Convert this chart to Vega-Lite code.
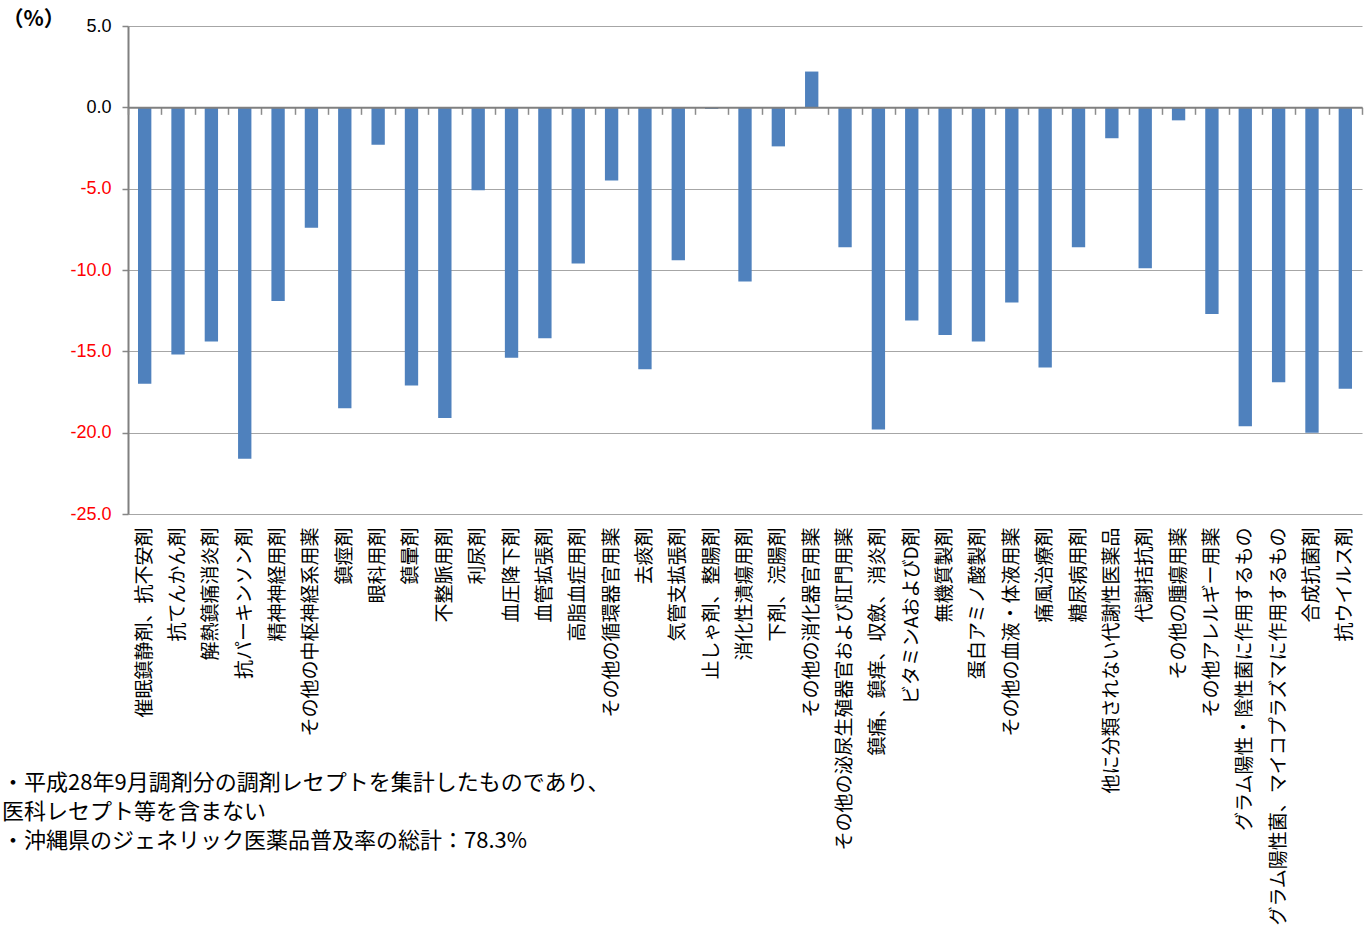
{
  "$schema": "https://vega.github.io/schema/vega-lite/v6.json",
  "width": 1234,
  "height": 488,
  "autosize": {"type": "none"},
  "padding": {"left": 128, "top": 26, "right": 7, "bottom": 435},
  "background": "white",
  "config": {"view": {"stroke": null}, "font": "Noto Sans CJK JP"},
  "title": {
    "text": [
      "・平成28年9月調剤分の調剤レセプトを集計したものであり、",
      "医科レセプト等を含まない",
      "・沖縄県のジェネリック医薬品普及率の総計：78.3%"
    ],
    "orient": "bottom",
    "anchor": "start",
    "frame": "bounds",
    "font": "Noto Sans CJK JP",
    "fontSize": 22,
    "fontWeight": "normal",
    "color": "black",
    "lineHeight": 29,
    "dy": -157
  },
  "data": {
    "values": [
      {"category": "催眠鎮静剤、抗不安剤", "value": -17.0},
      {"category": "抗てんかん剤", "value": -15.2},
      {"category": "解熱鎮痛消炎剤", "value": -14.4},
      {"category": "抗パーキンソン剤", "value": -21.6},
      {"category": "精神神経用剤", "value": -11.9},
      {"category": "その他の中枢神経系用薬", "value": -7.4},
      {"category": "鎮痙剤", "value": -18.5},
      {"category": "眼科用剤", "value": -2.3},
      {"category": "鎮暈剤", "value": -17.1},
      {"category": "不整脈用剤", "value": -19.1},
      {"category": "利尿剤", "value": -5.1},
      {"category": "血圧降下剤", "value": -15.4},
      {"category": "血管拡張剤", "value": -14.2},
      {"category": "高脂血症用剤", "value": -9.6},
      {"category": "その他の循環器官用薬", "value": -4.5},
      {"category": "去痰剤", "value": -16.1},
      {"category": "気管支拡張剤", "value": -9.4},
      {"category": "止しゃ剤、整腸剤", "value": -0.1},
      {"category": "消化性潰瘍用剤", "value": -10.7},
      {"category": "下剤、浣腸剤", "value": -2.4},
      {"category": "その他の消化器官用薬", "value": 2.2},
      {"category": "その他の泌尿生殖器官および肛門用薬", "value": -8.6},
      {"category": "鎮痛、鎮痒、収斂、消炎剤", "value": -19.8},
      {"category": "ビタミンAおよびD剤", "value": -13.1},
      {"category": "無機質製剤", "value": -14.0},
      {"category": "蛋白アミノ酸製剤", "value": -14.4},
      {"category": "その他の血液・体液用薬", "value": -12.0},
      {"category": "痛風治療剤", "value": -16.0},
      {"category": "糖尿病用剤", "value": -8.6},
      {"category": "他に分類されない代謝性医薬品", "value": -1.9},
      {"category": "代謝拮抗剤", "value": -9.9},
      {"category": "その他の腫瘍用薬", "value": -0.8},
      {"category": "その他アレルギー用薬", "value": -12.7},
      {"category": "グラム陽性・陰性菌に作用するもの", "value": -19.6},
      {"category": "グラム陽性菌、マイコプラズマに作用するもの", "value": -16.9},
      {"category": "合成抗菌剤", "value": -20.0},
      {"category": "抗ウイルス剤", "value": -17.3}
    ]
  },
  "encoding": {
    "y": {
      "field": "value",
      "type": "quantitative",
      "scale": {"domain": [-25, 5], "nice": false, "zero": false},
      "axis": {
        "values": [-25, -20, -15, -10, -5, 0, 5],
        "labelExpr": "replace(format(datum.value, '.1f'), '\u2212', '-')",
        "title": "（%）",
        "titleAngle": 0,
        "titleX": -126,
        "titleY": -7,
        "titleAlign": "left",
        "titleBaseline": "middle",
        "titleFont": "Noto Sans CJK JP",
        "titleFontSize": 21,
        "titleFontWeight": "bold",
        "titleColor": "black",
        "labelFont": "Liberation Sans",
        "labelFontSize": 18,
        "labelColor": {"condition": {"test": "datum.value < 0", "value": "#FF0000"}, "value": "black"},
        "tickSize": 6,
        "labelPadding": 11,
        "tickColor": "#868686",
        "tickWidth": 1.5,
        "domainColor": "#808080",
        "domainWidth": 2,
        "gridColor": "#a6a6a6",
        "gridWidth": 1.2
      }
    }
  },
  "layer": [
    {
      "mark": {"type": "bar", "color": "#4F81BD", "width": {"band": 0.4}},
      "encoding": {
        "x": {
          "field": "category",
          "type": "nominal",
          "sort": null,
          "scale": {"paddingInner": 0, "paddingOuter": 0},
          "axis": {
            "orient": "bottom",
            "title": null,
            "labelAngle": -90,
            "labelFont": "Noto Sans CJK JP",
            "labelFontSize": 19,
            "labelColor": "black",
            "labelPadding": 13,
            "labelLimit": 600,
            "labelOverlap": false,
            "ticks": false,
            "domain": false,
            "grid": false
          }
        }
      }
    },
    {
      "mark": {"type": "bar", "opacity": 0, "width": {"band": 0.4}},
      "encoding": {
        "x": {
          "field": "category",
          "type": "nominal",
          "sort": null,
          "axis": {
            "orient": "bottom",
            "title": null,
            "labels": false,
            "offset": -406.67,
            "tickBand": "extent",
            "tickSize": 7,
            "tickColor": "#8c8c8c",
            "tickWidth": 1.5,
            "domainColor": "#808080",
            "domainWidth": 2,
            "grid": false,
            "zindex": 1
          }
        }
      }
    }
  ],
  "resolve": {"axis": {"x": "independent"}}
}
